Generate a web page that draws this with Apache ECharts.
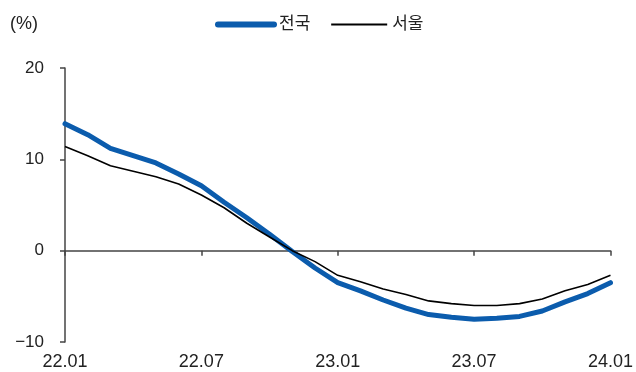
<!DOCTYPE html>
<html><head><meta charset="utf-8">
<script src="https://cdn.jsdelivr.net/npm/echarts@6/dist/echarts.min.js"></script>
<style>html,body{margin:0;padding:0;background:#fff}#c{width:636px;height:372px}</style>
</head><body><div id="c"></div>
<script>
const categories = ['22.01','22.02','22.03','22.04','22.05','22.06','22.07','22.08','22.09','22.10','22.11','22.12',
  '23.01','23.02','23.03','23.04','23.05','23.06','23.07','23.08','23.09','23.10','23.11','23.12','24.01'];
const national = [13.9,12.7,11.2,10.4,9.6,8.4,7.1,5.3,3.6,1.8,-0.1,-1.9,-3.5,-4.4,-5.4,-6.3,-7.0,-7.3,-7.5,-7.4,-7.2,-6.6,-5.6,-4.7,-3.5];
const seoul = [11.4,10.4,9.3,8.7,8.1,7.3,6.1,4.7,3.0,1.5,0.0,-1.2,-2.7,-3.4,-4.2,-4.8,-5.5,-5.8,-6.0,-6.0,-5.8,-5.3,-4.4,-3.7,-2.7];
const seriesNames = ['전국','서울'];
const yTicks = {min:-10, max:20, interval:10};

const FONT = '"Liberation Sans", "Noto Sans CJK KR", sans-serif';
const chart = echarts.init(document.getElementById('c'), null, {renderer:'canvas'});
chart.setOption({
  animation:false,
  backgroundColor:'#fff',
  textStyle:{fontFamily:FONT},
  grid:{left:65, right:24, top:68, bottom:30, containLabel:false},
  legend:{
    left:210, top:11, itemGap:20, itemWidth:56, itemHeight:14,
    textStyle:{fontFamily:FONT, fontSize:17, color:'#222'},
    itemStyle:{color:'rgba(0,0,0,0)', borderWidth:0, opacity:0},
    data:[
      {name:seriesNames[0], lineStyle:{width:6, cap:'round', color:'#0B5CAD'}},
      {name:seriesNames[1], lineStyle:{width:1.8, color:'#000'}}
    ]
  },
  graphic:[{type:'text', left:10, top:15, style:{text:'(%)', font:'18px ' + FONT, fill:'#222'}}],
  xAxis:[{
    type:'category', data:categories, boundaryGap:false,
    axisLine:{show:false, onZero:false}, axisTick:{show:false},
    axisLabel:{interval:5, margin:11, fontSize:18, color:'#222', fontFamily:FONT},
    splitLine:{show:false}
  },{
    type:'category', data:categories, boundaryGap:false, position:'bottom',
    axisLine:{show:true, onZero:true, lineStyle:{color:'#444', width:1.5}},
    axisTick:{show:true, interval:5, length:5, inside:false, lineStyle:{color:'#444', width:1.5}},
    axisLabel:{show:false}, splitLine:{show:false}
  }],
  yAxis:{
    type:'value', min:yTicks.min, max:yTicks.max, interval:yTicks.interval,
    axisLine:{show:true, lineStyle:{color:'#444', width:1.5}},
    axisTick:{show:true, length:5, lineStyle:{color:'#444', width:1.5}},
    splitLine:{show:false},
    axisLabel:{margin:21, fontSize:17, color:'#222', fontFamily:FONT,
      formatter:v => String(v).replace('-', '\u2212')}
  },
  series:[{
    name:seriesNames[0], type:'line', data:national, symbol:'none', xAxisIndex:0,
    lineStyle:{color:'#0B5CAD', width:5, cap:'round', join:'round'}, itemStyle:{color:'#0B5CAD'}, z:2
  },{
    name:seriesNames[1], type:'line', data:seoul, symbol:'none', xAxisIndex:0,
    lineStyle:{color:'#000', width:1.6}, itemStyle:{color:'#000'}, z:3
  }]
});
</script></body></html>
